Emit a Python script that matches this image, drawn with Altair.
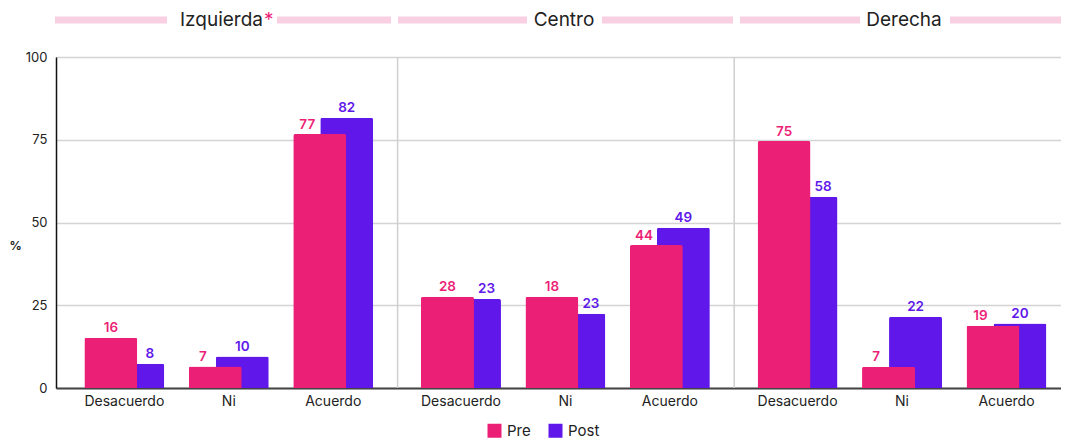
import altair as alt
import pandas as pd

panels = ["Izquierda", "Centro", "Derecha"]
categories = ["Desacuerdo", "Ni", "Acuerdo"]
series = ["Pre", "Post"]

# bar heights (%)
izq_pre = [15.2, 6.5, 76.7]
izq_post = [7.3, 9.5, 81.6]
cen_pre = [27.6, 27.6, 43.2]
cen_post = [26.9, 22.4, 48.4]
der_pre = [74.6, 6.4, 18.8]
der_post = [57.8, 21.5, 19.5]

# printed labels
izq_pre_lbl = [16, 7, 77]
izq_post_lbl = [8, 10, 82]
cen_pre_lbl = [28, 18, 44]
cen_post_lbl = [23, 23, 49]
der_pre_lbl = [75, 7, 19]
der_post_lbl = [58, 22, 20]

values = {
    "Izquierda": (izq_pre, izq_post, izq_pre_lbl, izq_post_lbl),
    "Centro": (cen_pre, cen_post, cen_pre_lbl, cen_post_lbl),
    "Derecha": (der_pre, der_post, der_pre_lbl, der_post_lbl),
}

# layout in "category step" units: each panel is 3.2227 steps wide
PANEL_STEPS = 3.2227
OUTER = 0.6066

rows = []
cats = []
for pi, p in enumerate(panels):
    pre, post, pre_l, post_l = values[p]
    for i, c in enumerate(categories):
        pos = pi * PANEL_STEPS + i
        rows.append(dict(panel=p, cat=c, pos=pos, serie="Pre", value=pre[i], label=str(pre_l[i]),
                         taller=bool(pre[i] >= post[i])))
        rows.append(dict(panel=p, cat=c, pos=pos, serie="Post", value=post[i], label=str(post_l[i]),
                         taller=bool(post[i] > pre[i])))
        cats.append(dict(cat=c, pos=pos))
df = pd.DataFrame(rows)
cat_df = pd.DataFrame(cats)
sep_df = pd.DataFrame({"sep": [k * PANEL_STEPS - OUTER for k in (1, 2)], "y0": [0, 0], "y1": [100, 100]})

PINK = "#EC1F77"
PURPLE = "#6017EA"
BAND = "#F9D0E2"
FONT = "Inter"
W, H = 1005, 331

color_scale = alt.Scale(domain=series, range=[PINK, PURPLE])
xscale = alt.Scale(domain=[-OUTER, (W - 64) / 105.5], nice=False, zero=False)

xenc = alt.X("pos:Q", scale=xscale,
             axis=alt.Axis(title=None, labels=False, ticks=False, grid=False, domainColor="#444",
                           domainWidth=2))
yenc = alt.Y("value:Q", scale=alt.Scale(domain=[0, 100], nice=False),
             axis=alt.Axis(values=[0, 25, 50, 75, 100], title="%", titleAngle=0, titleX=-41,
                           titleY=188, titleAlign="center", titleBaseline="middle",
                           titleFontSize=12, titleFontWeight="bold", titleColor="#222",
                           labelFontSize=13, labelColor="#222", labelPadding=9, ticks=False,
                           tickSize=0, domainColor="#111", domainWidth=1.5, grid=True,
                           gridColor="#d4d4d4", gridWidth=1.5, labelFont=FONT, titleFont=FONT))
cenc = alt.Color("serie:N", scale=color_scale,
                 legend=alt.Legend(title=None, orient="none", legendX=431, legendY=366,
                                   direction="horizontal", symbolType="square", symbolSize=196,
                                   symbolStrokeWidth=0, labelFontSize=15, labelColor="#222",
                                   labelFont=FONT, columnPadding=17, labelOffset=5, padding=0))

base = alt.Chart(df)

seps = alt.Chart(sep_df).mark_rule(color="#cfcfcf", strokeWidth=1.5).encode(
    x=alt.X("sep:Q", scale=xscale), y=alt.Y("y0:Q"), y2="y1:Q")

post_bar = base.transform_filter("datum.serie == 'Post'").mark_bar(
    width=53, xOffset=13.5, cornerRadiusTopLeft=2, cornerRadiusTopRight=2
).encode(x=xenc, y=yenc, color=cenc)
pre_bar = base.transform_filter("datum.serie == 'Pre'").mark_bar(
    width=53, xOffset=-13.5, cornerRadiusTopLeft=2, cornerRadiusTopRight=2
).encode(x=xenc, y=yenc, color=cenc)


def txt(serie, taller, dx):
    return base.transform_filter(
        f"datum.serie == '{serie}' && datum.taller == {'true' if taller else 'false'}"
    ).mark_text(dx=dx, dy=-5.5, baseline="alphabetic", fontSize=13.5, fontWeight=600,
                font=FONT).encode(x="pos:Q", y="value:Q", text="label:N",
                                  color=alt.Color("serie:N", scale=color_scale))


texts = [txt("Pre", True, -13.5), txt("Pre", False, -26), txt("Post", True, 13.5),
         txt("Post", False, 25.5)]

cat_labels = alt.Chart(cat_df).mark_text(fontSize=14, color="#222", font=FONT,
                                         baseline="middle").encode(
    x="pos:Q", y=alt.value(H + 14), text="cat:N")

one = pd.DataFrame({"a": [0]})
hb = alt.Chart(one)


def band(x0, x1):
    return hb.mark_rule(color=BAND, strokeWidth=7, strokeCap="butt").encode(
        x=alt.value(x0), x2=alt.value(x1), y=alt.value(-37))


def head(x, text, align="center", color="#222"):
    return hb.mark_text(fontSize=19, color=color, font=FONT, align=align,
                        baseline="middle").encode(x=alt.value(x), y=alt.value(-37),
                                                  text=alt.value(text))


headers = [
    band(-1, 111), band(221, 335), head(207, panels[0], "right"), head(208, "*", "left", PINK),
    band(342, 471), band(546, 677), head(508, panels[1]),
    band(684, 804), band(894, 1005), head(848, panels[2]),
]

chart = alt.layer(seps, post_bar, pre_bar, *texts, cat_labels, *headers).properties(
    width=W, height=H,
    autosize=alt.AutoSizeParams(type="none"),
    padding={"left": 48, "top": 49, "right": 0, "bottom": 53},
).configure_view(stroke=None).configure(background="white")

chart.save("out.html", embed_options={"renderer": "svg", "actions": False})
